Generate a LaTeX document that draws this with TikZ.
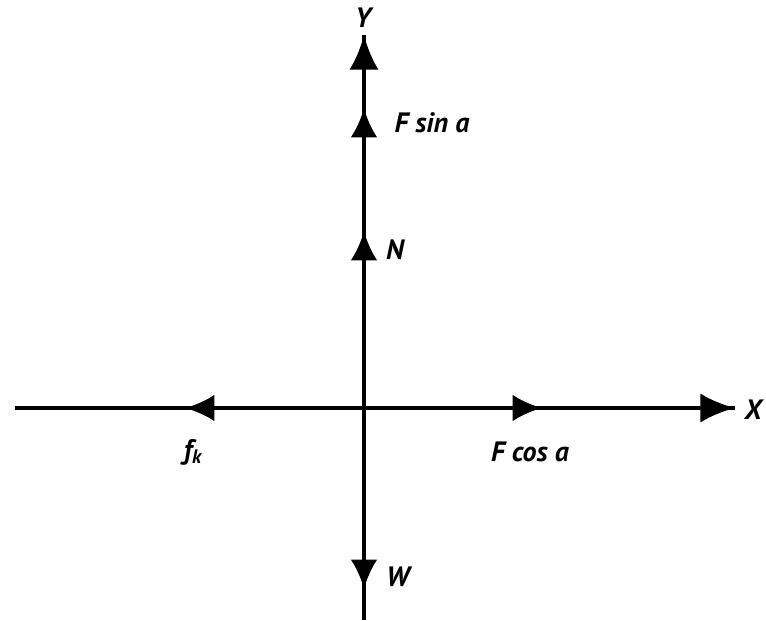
\documentclass[tikz,border=0pt]{standalone}
\usepackage{fontspec}
\setmainfont{PT Sans}
\usetikzlibrary{arrows.meta}
\tikzset{
  axis/.style={line width=3pt},
  force/.style={line width=3pt,-{Latex[length=22pt,width=20pt]}},
  endforce/.style={line width=3pt,-{Latex[length=26pt,width=22pt]}},
  lbl/.style={inner sep=0.75pt,font=\fontsize{21}{24}\selectfont\bfseries\itshape}
}
\begin{document}
\begin{tikzpicture}[x=0.75pt,y=0.75pt,yscale=-1,xscale=1]
\useasboundingbox (0,0) rectangle (766,620);
% axes ends and arrow tips
\coordinate (O) at (364,408);
\coordinate (left) at (15,408);
\coordinate (bot) at (364,620);
\coordinate (tipX) at (735,408);
\coordinate (tipY) at (364,35);
\coordinate (tipFc) at (542,408);
\coordinate (tipfk) at (185,408);
\coordinate (tipN) at (364,231);
\coordinate (tipFs) at (364,108);
\coordinate (tipW) at (364,589);
% axes
\draw [axis] (left) -- (tipX) ;
\draw [axis] (bot) -- (tipY) ;
% forces
\draw [force] (O) -- (tipFc) ;
\draw [endforce] (tipFc) -- (tipX) ;
\draw [force] (O) -- (tipfk) ;
\draw [force] (O) -- (tipN) ;
\draw [force] (tipN) -- (tipFs) ;
\draw [endforce] (tipFs) -- (tipY) ;
\draw [force] (O) -- (tipW) ;
% labels
\draw (363,18) node [lbl] (Y) {Y};
\draw (753,410) node [lbl] (X) {X};
\draw (432,123) node [lbl] (Fs) {F sin a};
\draw (395,250) node [lbl] (N) {N};
\draw (193,452) node [lbl] (fk) {f\textsubscript{k}};
\draw (530,452) node [lbl] (Fc) {F cos a};
\draw (398,577) node [lbl] (W) {W};
\end{tikzpicture}
\end{document}
